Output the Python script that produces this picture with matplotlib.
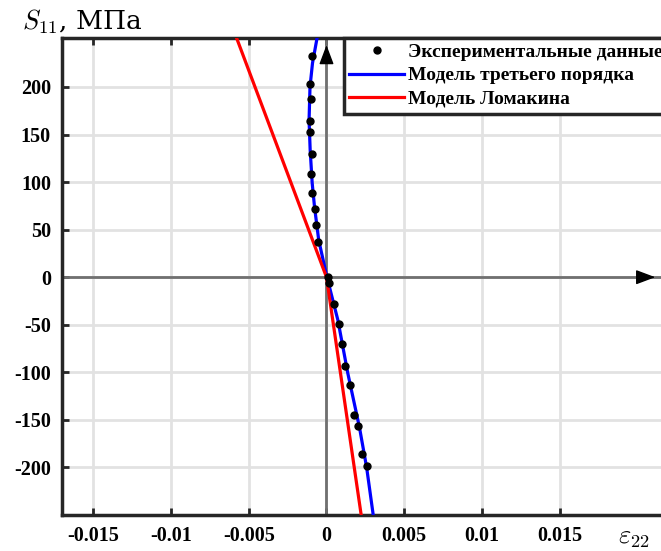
import matplotlib
matplotlib.use('Agg')
import matplotlib.pyplot as plt

plt.rcParams['font.family'] = ['Liberation Serif', 'DejaVu Serif']
plt.rcParams['font.weight'] = 'bold'
plt.rcParams['mathtext.fontset'] = 'cm'
plt.rcParams['axes.unicode_minus'] = False

# experimental points (S11 in MPa, eps22)
exp_s = [233, 203, 187, 164, 153, 130, 108, 89, 72, 55, 37, 0.3,
         -6.6, -28, -49, -70, -93, -113, -145, -156, -186, -199]
exp_eps = [-0.00095, -0.00105, -0.00098, -0.00109, -0.00109, -0.00095,
           -0.00098, -0.00095, -0.00077, -0.00066, -0.00056, 0.00008,
           0.00015, 0.00051, 0.00079, 0.00101, 0.00122, 0.00153,
           0.0018, 0.002, 0.0023, 0.0026]

# third order model
cub_s = [-252, -200, -158, -101, -45, 0, 39, 74, 99, 134, 165, 200, 225, 252]
cub_eps = [0.00302, 0.00258, 0.00212, 0.00137, 0.00073, 0.00003, -0.00050,
           -0.00077, -0.00092, -0.00105, -0.00112, -0.00106, -0.00090, -0.00060]

# Lomakin model (red)
lom_s = [252, 0, -250]
lom_eps = [-0.00579, 0.0, 0.00223]

xticks = [-0.015, -0.01, -0.005, 0, 0.005, 0.01, 0.015]
xticklabels = ['-0.015', '-0.01', '-0.005', '0', '0.005', '0.01', '0.015']
yticks = [-200, -150, -100, -50, 0, 50, 100, 150, 200]

fig = plt.figure(figsize=(6.61, 5.51), dpi=100)
ax = fig.add_axes([62/661, 36/551, 1 - 62/661, (515-37.5)/551])

ax.set_xlim(-0.017, 0.0215)
ax.set_ylim(-250, 252)

ax.set_xticks(xticks)
ax.set_xticklabels(xticklabels)
ax.set_yticks(yticks)
ax.grid(True, color='#e2e2e2', lw=2, zorder=0)
ax.set_axisbelow(True)
ax.tick_params(direction='in', length=5, width=2, color='#262626',
               labelsize=14.5, top=True, pad=8)
for lab in ax.get_xticklabels() + ax.get_yticklabels():
    lab.set_fontweight('bold')
for sp in ['left', 'bottom', 'top']:
    ax.spines[sp].set_linewidth(2.5)
    ax.spines[sp].set_color('#262626')
ax.spines['right'].set_visible(False)

# coordinate axes with arrows
arrow_style = dict(arrowstyle='-|>,head_length=0.85,head_width=0.32',
                   color='black', lw=1, mutation_scale=14)
ax.axhline(0, color='#707070', lw=2, zorder=1)
ax.axvline(0, color='#707070', lw=2, zorder=1)
ax.annotate('', xy=(0.995, 0), xycoords=('axes fraction', 'data'),
            xytext=(0.96, 0), textcoords=('axes fraction', 'data'),
            arrowprops=arrow_style, zorder=3)
ax.annotate('', xy=(0, 0.99), xycoords=('data', 'axes fraction'),
            xytext=(0, 0.95), textcoords=('data', 'axes fraction'),
            arrowprops=arrow_style, zorder=3)

ax.plot(cub_eps, cub_s, color='blue', lw=2.3, zorder=4,
        label='Модель третьего порядка')
ax.plot(lom_eps, lom_s, color='red', lw=2.3, zorder=4,
        label='Модель Ломакина')
ax.plot(exp_eps, exp_s, 'o', color='black', ms=5, zorder=5,
        label='Экспериментальные данные')

h, l = ax.get_legend_handles_labels()
order = [2, 0, 1]
leg = ax.legend([h[i] for i in order], [l[i] for i in order],
                loc='upper right', bbox_to_anchor=(1.012, 1.0),
                borderaxespad=0, fancybox=False, framealpha=1,
                edgecolor='#262626', handlelength=2.8, handletextpad=0.2,
                labelspacing=0.3, borderpad=0.3,
                prop={'weight': 'bold', 'size': 14})
leg.get_frame().set_linewidth(2.5)
leg.set_zorder(6)

fig.text(22/661, 1 - 30/551, r'$S_{11}$, МПа', fontsize=19,
         family='DejaVu Serif', fontweight='normal', va='baseline')
fig.text(618/661, 1 - 544/551, r'$\varepsilon_{22}$', fontsize=19,
         va='baseline')

fig.savefig('out.png', dpi=100)
